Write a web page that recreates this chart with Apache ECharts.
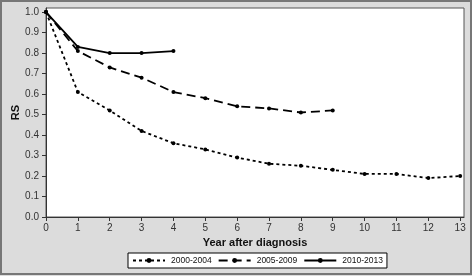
<!DOCTYPE html>
<html>
<head>
<meta charset="utf-8">
<script src="https://cdn.jsdelivr.net/npm/echarts@6/dist/echarts.min.js"></script>
<style>
  html, body { margin: 0; padding: 0; background: #dcdcdc; }
  #chart { width: 472px; height: 276px; }
</style>
</head>
<body>
<div id="chart"></div>
<script>
    // data
    var years = [0, 1, 2, 3, 4, 5, 6, 7, 8, 9, 10, 11, 12, 13];
    var rs2000 = [1.0, 0.61, 0.52, 0.42, 0.36, 0.33, 0.29, 0.26, 0.25, 0.23, 0.21, 0.21, 0.19, 0.20];
    var rs2005 = [1.0, 0.81, 0.73, 0.68, 0.61, 0.58, 0.54, 0.53, 0.51, 0.52];
    var rs2010 = [1.0, 0.83, 0.80, 0.80, 0.81];
    var yTicks = [0, 0.1, 0.2, 0.3, 0.4, 0.5, 0.6, 0.7, 0.8, 0.9, 1.0];
    var seriesNames = ['2000-2004', '2005-2009', '2010-2013'];

    function pairs(vals) {
        return vals.map(function (v, i) { return [years[i], v]; });
    }

    var font = 'Liberation Sans, Arial, sans-serif';

    function makeSeries(name, vals, lineType) {
        return {
            name: name,
            type: 'line',
            data: pairs(vals),
            symbol: 'circle',
            symbolSize: 4,
            itemStyle: { color: '#000' },
            lineStyle: { color: '#000', width: 1.8, type: lineType }
        };
    }

    var option = {
        backgroundColor: '#dcdcdc',
        animation: false,
        textStyle: { fontFamily: font },
        grid: {
            left: 46, right: 8, top: 8, bottom: 59,
            outerBoundsMode: 'none',
            containLabel: false,
            show: true,
            backgroundColor: '#fff',
            borderColor: '#555',
            borderWidth: 1
        },
        xAxis: {
            type: 'value',
            min: 0,
            max: 13.12,
            name: 'Year after diagnosis',
            nameLocation: 'middle',
            nameGap: 19,
            nameTextStyle: { fontWeight: 'bold', fontSize: 11, color: '#111', fontFamily: font },
            axisLine: { lineStyle: { color: '#333' } },
            axisTick: { length: 4, lineStyle: { color: '#333' }, customValues: years },
            axisLabel: { customValues: years, color: '#333', fontSize: 10, margin: 6 },
            splitLine: { show: false }
        },
        yAxis: {
            type: 'value',
            min: 0,
            max: 1.02,
            name: 'RS',
            nameLocation: 'middle',
            nameGap: 25,
            nameMoveOverlap: false,
            nameTextStyle: { fontWeight: 'bold', fontSize: 11, color: '#111', fontFamily: font },
            axisLine: { show: true, lineStyle: { color: '#333' } },
            axisTick: { show: true, length: 4, lineStyle: { color: '#333' }, customValues: yTicks },
            axisLabel: {
                customValues: yTicks,
                color: '#333',
                fontSize: 10,
                margin: 7,
                formatter: function (v) { return v.toFixed(1); }
            },
            splitLine: { show: false }
        },
        legend: {
            data: seriesNames,
            top: 253,
            left: 128,
            itemWidth: 32,
            itemHeight: 6,
            itemGap: 6,
            padding: [3, 4],
            borderColor: '#000',
            borderWidth: 1,
            backgroundColor: '#fff',
            textStyle: { fontSize: 8.5, color: '#111', fontFamily: font, padding: [0, 0, 0, 1] }
        },
        graphic: [{
            type: 'rect',
            shape: { x: 1, y: 1, width: 470, height: 273 },
            style: { fill: 'none', stroke: '#777', lineWidth: 2 }
        }],
        series: [
            makeSeries(seriesNames[0], rs2000, [3, 3]),
            makeSeries(seriesNames[1], rs2005, [9, 5]),
            makeSeries(seriesNames[2], rs2010, 'solid')
        ]
    };

    var chart = echarts.init(document.getElementById('chart'));
    chart.setOption(option);
</script>
</body>
</html>
